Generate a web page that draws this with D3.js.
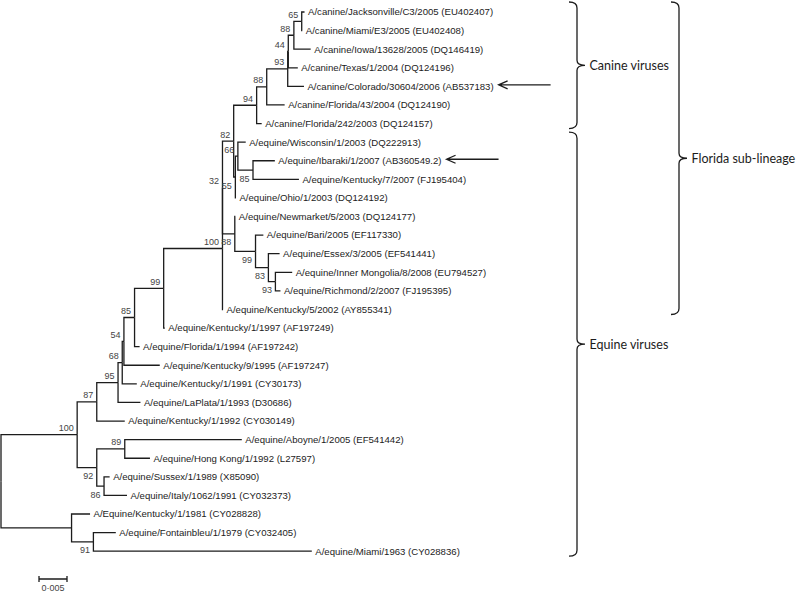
<!DOCTYPE html>
<html><head><meta charset="utf-8">
<script src="https://cdn.jsdelivr.net/npm/d3@7/dist/d3.min.js"></script>
<style>body{margin:0;background:#fff}svg{display:block}</style>
</head><body><svg id="c" width="800" height="593"></svg>
<script>
// ---- DATA ----
const nodeIds = [
 "root","A","B","C","D","E","F","G","H","I","J","K","L","M","N","O","P",
 "A/canine/Jacksonville/C3/2005 (EU402407)","A/canine/Miami/E3/2005 (EU402408)",
 "A/canine/Iowa/13628/2005 (DQ146419)","A/canine/Texas/1/2004 (DQ124196)",
 "A/canine/Colorado/30604/2006 (AB537183)","A/canine/Florida/43/2004 (DQ124190)",
 "A/canine/Florida/242/2003 (DQ124157)",
 "Q","R","A/equine/Wisconsin/1/2003 (DQ222913)","S",
 "A/equine/Ibaraki/1/2007 (AB360549.2)","A/equine/Kentucky/7/2007 (FJ195404)",
 "A/equine/Ohio/1/2003 (DQ124192)",
 "T","A/equine/Newmarket/5/2003 (DQ124177)","U","A/equine/Bari/2005 (EF117330)","V",
 "A/equine/Essex/3/2005 (EF541441)","W","A/equine/Inner Mongolia/8/2008 (EU794527)",
 "A/equine/Richmond/2/2007 (FJ195395)",
 "A/equine/Kentucky/5/2002 (AY855341)","A/equine/Kentucky/1/1997 (AF197249)",
 "A/equine/Florida/1/1994 (AF197242)","A/equine/Kentucky/9/1995 (AF197247)",
 "A/equine/Kentucky/1/1991 (CY30173)","A/equine/LaPlata/1/1993 (D30686)",
 "A/equine/Kentucky/1/1992 (CY030149)",
 "X","Y","A/equine/Aboyne/1/2005 (EF541442)","A/equine/Hong Kong/1/1992 (L27597)",
 "Z","A/equine/Sussex/1/1989 (X85090)","A/equine/Italy/1062/1991 (CY032373)",
 "AA","A/Equine/Kentucky/1/1981 (CY028828)","AB",
 "A/equine/Fontainbleu/1/1979 (CY032405)","A/equine/Miami/1963 (CY028836)"
];
const parentIds = [
 null,"root","A","B","C","D","E","F","G","H","I","J","K","L","M","N","O",
 "P","P","O","N","M","L","K",
 "J","Q","R","R","S","S","Q",
 "I","T","T","U","U","V","V","W","W",
 "H","G","F","E","D","C","B",
 "A","X","Y","Y","X","Z","Z",
 "root","AA","AA","AB","AB"
];
const branchLengths = [
 0,0.0136,0.0035,0.0038,0.00075,0.0003,0.0019,0.0052,0.0105,0,0.002,0.0041,0.0018,0.00375,0.0001,0.001,0.0014,
 0.0005,0.0001,0.003,0.0017,0.0029,0.0032,0.0009,
 0.0003,0.00045,0.0014,0.0027,0.0039,0.0082,0.0001,
 0.0022,0.0001,0.0037,0.0014,0.0023,0.002,0.00125,0.003,0.0009,
 0.0001,0.0002,0.0009,0.0064,0.0026,0.004,0.005,
 0.0035,0.005,0.0209,0.0045,0.0013,0.001,0.0041,
 0.0126,0.0033,0.0039,0.004,0.039
];
const bootstrapValues = [
 null,100,87,95,68,54,85,99,100,32,82,94,88,93,44,88,65,
 null,null,null,null,null,null,null,
 55,66,null,85,null,null,null,
 88,null,99,null,83,null,93,null,null,
 null,null,null,null,null,null,null,
 92,89,null,null,86,null,null,
 null,null,91,null,null
];
const cladeNames = ["Canine viruses","Equine viruses","Florida sub-lineage"];
const cladeFirstLeaf = ["A/canine/Jacksonville/C3/2005 (EU402407)","A/equine/Wisconsin/1/2003 (DQ222913)","A/canine/Jacksonville/C3/2005 (EU402407)"];
const cladeLastLeaf = ["A/canine/Florida/242/2003 (DQ124157)","A/equine/Miami/1963 (CY028836)","A/equine/Kentucky/5/2002 (AY855341)"];
const arrowedLeaves = ["A/canine/Colorado/30604/2006 (AB537183)","A/equine/Ibaraki/1/2007 (AB360549.2)"];
const scaleBarValue = 0.005;
const scaleBarLabel = "0·005";

// ---- LAYOUT ----
const svg = d3.select("#c");
const rows = nodeIds.map((id,i)=>({id, parent: parentIds[i], bl: branchLengths[i], bs: bootstrapValues[i]}));
const root = d3.stratify().id(d=>d.id).parentId(d=>d.parent)(rows);
root.eachBefore(n => { n.dist = n.parent ? n.parent.dist + n.data.bl : 0; });
d3.cluster().nodeSize([1, 1]).separation(()=>1)(root);
const leaves = root.leaves();

const xScale = d3.scaleLinear().domain([0, 0.1]).range([1, 561]);
const yScale = d3.scaleLinear().domain(d3.extent(leaves, n => n.x)).range([12, 551.2]);
const X = n => xScale(n.dist), Y = n => yScale(n.x);

const ink = "#1c1c1c";
const g = svg.append("g");

g.selectAll("path.br").data(root.links()).join("path")
  .attr("class","br")
  .attr("fill","none").attr("stroke",ink).attr("stroke-width",1.3)
  .attr("d", l => `M${X(l.source)},${Y(l.source)}V${Y(l.target)}H${X(l.target)}`);

const leafFont = "'Liberation Sans', Arial, sans-serif";
const leafText = g.selectAll("text.leaf").data(leaves).join("text")
  .attr("class","leaf")
  .attr("x", n => X(n) + 3.5).attr("y", n => Y(n)).attr("dy","0.35em")
  .attr("font-family", leafFont).attr("font-size", 9.6).attr("fill", ink)
  .text(n => n.id);

// bootstrap labels
const belowNodes = new Set(["S","Q","T","U","V","W","X","Z","AB"]);
const internal = root.descendants().filter(n => n.data.bs != null);
g.selectAll("text.bs").data(internal).join("text")
  .attr("class","bs")
  .attr("x", n => X(n) - 3.5)
  .attr("y", n => belowNodes.has(n.id) ? Y(n) + 11.5 : Y(n) - 3.5)
  .attr("text-anchor","end")
  .attr("font-family", leafFont).attr("font-size", 9).attr("fill", "#444")
  .text(n => n.data.bs);

// arrows
const leafById = new Map(leaves.map(n => [n.id, n]));
leafText.each(function(n){ n.textEnd = X(n) + 3.5 + this.getComputedTextLength(); });
arrowedLeaves.forEach(id => {
  const n = leafById.get(id);
  const tip = n.textEnd + 5, y = Y(n) - 1.5, tail = tip + 52;
  g.append("path").attr("fill","none").attr("stroke",ink).attr("stroke-width",1.3)
    .attr("d", `M${tail},${y}H${tip}M${tip+9},${y-4}L${tip},${y}L${tip+9},${y+4}`);
});

// braces
const braceX = [577, 577, 679];
cladeNames.forEach((name,i) => {
  const y0 = Y(leafById.get(cladeFirstLeaf[i])) - 10;
  const y1 = Y(leafById.get(cladeLastLeaf[i])) + 5;
  const ym = (y0 + y1) / 2, x = braceX[i];
  g.append("path").attr("fill","none").attr("stroke",ink).attr("stroke-width",1.3)
    .attr("d", `M${x-8},${y0}Q${x},${y0} ${x},${y0+6}L${x},${ym-5}Q${x},${ym} ${x+8},${ym}Q${x},${ym} ${x},${ym+5}L${x},${y1-6}Q${x},${y1} ${x-8},${y1}`);
  g.append("text").attr("x", x + 12.5).attr("y", ym).attr("dy","0.35em")
    .attr("font-family","Lato, 'Open Sans', sans-serif").attr("font-size", 12.5).attr("fill", ink)
    .text(name);
});

// scale bar
const sbX0 = 39, sbY = 579, sbW = xScale(scaleBarValue) - xScale(0);
g.append("path").attr("fill","none").attr("stroke",ink).attr("stroke-width",1.3)
  .attr("d", `M${sbX0},${sbY}H${sbX0+sbW}M${sbX0},${sbY-3}V${sbY+3}M${sbX0+sbW},${sbY-3}V${sbY+3}`);
g.append("text").attr("x", sbX0 + sbW/2).attr("y", sbY + 12).attr("text-anchor","middle")
  .attr("font-family", leafFont).attr("font-size", 9).attr("fill","#444").text(scaleBarLabel);
</script></body></html>
